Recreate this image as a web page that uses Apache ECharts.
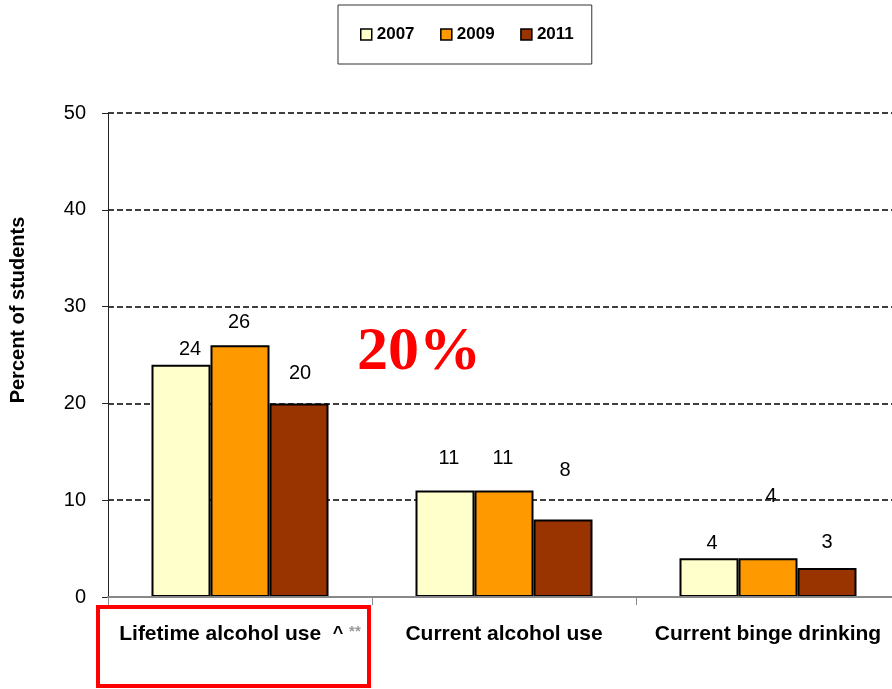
<!DOCTYPE html>
<html>
<head>
<meta charset="utf-8">
<script src="https://cdn.jsdelivr.net/npm/echarts@6/dist/echarts.min.js"></script>
<style>
html,body{margin:0;padding:0;background:#fff;overflow:hidden;}
#chart{width:900px;height:689px;}
</style>
</head>
<body>
<div id="chart"></div>
<script>
// ---- data ----
var categories = ['Lifetime alcohol use', 'Current alcohol use', 'Current binge drinking'];
var categoryNotes = ['^ **', '', ''];
var seriesNames = ['2007', '2009', '2011'];
var values2007 = [24, 11, 4];
var values2009 = [26, 11, 4];
var values2011 = [20, 8, 3];
var yTicks = [0, 10, 20, 30, 40, 50];
var highlightText = '20%';

// ---- styles (label placement as in the original slide) ----
var colors = ['#FFFFCC', '#FF9900', '#993300'];
var labelOffsets = [
  [[9, 0], [4, -17], [3, 0]],
  [[-1, -8], [-1, -17], [3, -47]],
  [[1, -15], [2, -34], [0, -10]]
];

var allValues = [values2007, values2009, values2011];

function buildData(vals, si) {
  return vals.map(function (v, i) {
    return { value: v, label: { offset: labelOffsets[si][i] } };
  });
}

var chart = echarts.init(document.getElementById('chart'), null, { renderer: 'canvas' });

var series = seriesNames.map(function (name, si) {
  return {
    name: name,
    type: 'bar',
    data: buildData(allValues[si], si),
    barWidth: 59,
    barGap: '0%',
    itemStyle: { color: colors[si], borderColor: '#000', borderWidth: 2 },
    label: {
      show: true,
      position: 'top',
      distance: 5,
      color: '#000',
      fontSize: 20,
      fontFamily: 'Liberation Sans, Arial, sans-serif'
    },
    z: 2
  };
});

var option = {
  animation: false,
  backgroundColor: '#fff',
  textStyle: { fontFamily: 'Liberation Sans, Arial, sans-serif' },
  legend: {
    data: seriesNames,
    left: 338,
    top: 5,
    orient: 'horizontal',
    padding: [21, 18, 21, 22],
    borderColor: '#333',
    borderWidth: 1,
    itemWidth: 11,
    itemHeight: 11,
    itemGap: 25.5,
    icon: 'rect',
    itemStyle: { borderColor: '#000', borderWidth: 1.5 },
    textStyle: { fontSize: 17, fontWeight: 'bold', color: '#000' }
  },
  grid: { left: 108, top: 113, right: 0, bottom: 92, containLabel: false },
  xAxis: {
    type: 'category',
    data: categories,
    z: 5,
    axisLine: { show: true, lineStyle: { color: '#888', width: 2 } },
    axisTick: { show: true, length: 8, lineStyle: { color: '#888', width: 1 } },
    axisLabel: {
      interval: 0,
      margin: 27,
      color: '#000',
      fontSize: 21,
      fontWeight: 'bold',
      formatter: function (v, idx) {
        var note = categoryNotes[idx];
        if (!note) return v;
        var parts = note.split(' ');
        return v + '  {a|' + parts[0] + '} {b|' + parts[1] + '}';
      },
      rich: {
        a: { fontSize: 18, fontWeight: 'bold', color: '#000' },
        b: { fontSize: 15, color: '#999', verticalAlign: 'top' }
      }
    }
  },
  yAxis: {
    type: 'value',
    min: yTicks[0],
    max: yTicks[yTicks.length - 1],
    interval: yTicks[1] - yTicks[0],
    axisLine: { show: true, lineStyle: { color: '#222', width: 1 } },
    axisTick: { show: true, inside: false, length: 6, lineStyle: { color: '#222' } },
    axisLabel: { margin: 22, color: '#000', fontSize: 20 },
    splitLine: { show: true, lineStyle: { color: '#000', type: [6, 3], width: 1.5 } }
  },
  series: series,
  graphic: [
    {
      type: 'text',
      x: 18,
      y: 310,
      rotation: Math.PI / 2,
      style: {
        x: 0, y: 0,
        text: 'Percent of students',
        fill: '#000',
        font: 'bold 20px "Liberation Sans", Arial, sans-serif',
        align: 'center',
        verticalAlign: 'middle'
      }
    },
    {
      type: 'text',
      x: 419,
      y: 353,
      style: {
        x: 0, y: 0,
        text: highlightText,
        fill: '#FF0000',
        font: 'bold 62px "Liberation Serif", "Times New Roman", serif',
        align: 'center',
        verticalAlign: 'middle'
      },
      z: 10
    },
    {
      type: 'rect',
      shape: { x: 98, y: 607, width: 271, height: 79 },
      style: { fill: 'none', stroke: '#FF0000', lineWidth: 4 },
      z: 10
    }
  ]
};

chart.setOption(option);
</script>
</body>
</html>
